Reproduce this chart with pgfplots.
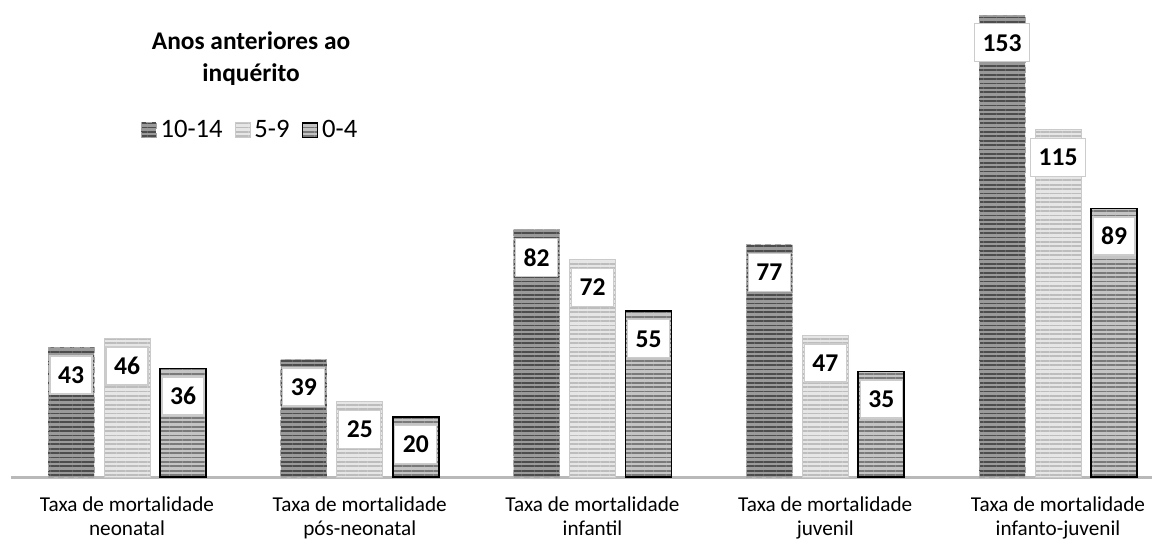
\documentclass[border=0pt]{standalone}
\usepackage{fontspec}
\setmainfont{Carlito}
\usepackage{pgfplots}
\pgfplotsset{compat=1.18}
\usetikzlibrary{patterns.meta}

\definecolor{darkA}{HTML}{9A9A9A}
\definecolor{darkB}{HTML}{4D4D4D}
\definecolor{lightA}{HTML}{E6E6E6}
\definecolor{lightB}{HTML}{BDBDBD}
\definecolor{midA}{HTML}{C4C4C4}
\definecolor{midB}{HTML}{7A7A7A}

\begin{document}
\begin{tikzpicture}
\begin{axis}[
    x=116.375pt, y=1.51pt,
    ybar=5pt, bar width=23pt,
    xmin=-0.5, xmax=4.404,
    ymin=0, ymax=158,
    clip=false,
    axis x line*=bottom,
    axis y line=none,
    x axis line style={gray!55, line width=1.5pt},
    xtick={0,1,2,3,4},
    xticklabels={{Taxa de mortalidade\\neonatal},{Taxa de mortalidade\\pós-neonatal},{Taxa de mortalidade\\infantil},{Taxa de mortalidade\\juvenil},{Taxa de mortalidade\\infanto-juvenil}},
    xtick style={draw=none},
    xticklabel style={align=center, font=\fontsize{10.6}{11.8}\selectfont, yshift=-2pt},
    nodes near coords,
    /pgf/number format/assume math mode=true,
    every node near coord/.append style={anchor=north, yshift=-4pt, fill=white, draw=gray!40, solid, line width=0.7pt,
        font=\fontsize{12.8}{14}\selectfont\bfseries, text=black, minimum height=19pt, inner xsep=4pt, text depth=0pt},
    legend style={at={(rel axis cs:0.2106,0.727)}, anchor=center, draw=none, fill=none,
        legend columns=3, font=\fontsize{13.3}{15}\selectfont,
        /tikz/every even column/.append style={column sep=4pt}},
    legend image code/.code={\draw[#1] (0pt,-3.7pt) rectangle (7.5pt,3.7pt);},
]
\addplot[fill=darkA, draw=gray!70, densely dashed, line width=0.4pt,
    postaction={pattern={Lines[angle=0,distance=2.2pt,line width=0.9pt]}, pattern color=darkB}]
    coordinates {(0,43) (1,39) (2,82) (3,77) (4,153)};
\addplot[fill=lightA, draw=lightB!80, line width=0.4pt,
    postaction={pattern={Lines[angle=0,distance=2.2pt,line width=0.9pt]}, pattern color=lightB}]
    coordinates {(0,46) (1,25) (2,72) (3,47) (4,115)};
\addplot[fill=midA, draw=black, line width=0.8pt,
    postaction={pattern={Lines[angle=0,distance=2.2pt,line width=0.9pt]}, pattern color=midB}]
    coordinates {(0,36) (1,20) (2,55) (3,35) (4,89)};
\legend{10-14, 5-9, 0-4}
\node[align=center, font=\fontsize{12.7}{16}\selectfont\bfseries] at (axis cs:0.533,138.5) {Anos anteriores ao\\inquérito};
\coordinate (bl) at (axis cs:-0.5457,-21.2);
\coordinate (tr) at (axis cs:4.4253,158);
\end{axis}
\pgfresetboundingbox
\path[use as bounding box] (bl) rectangle (tr);
\end{tikzpicture}
\end{document}
